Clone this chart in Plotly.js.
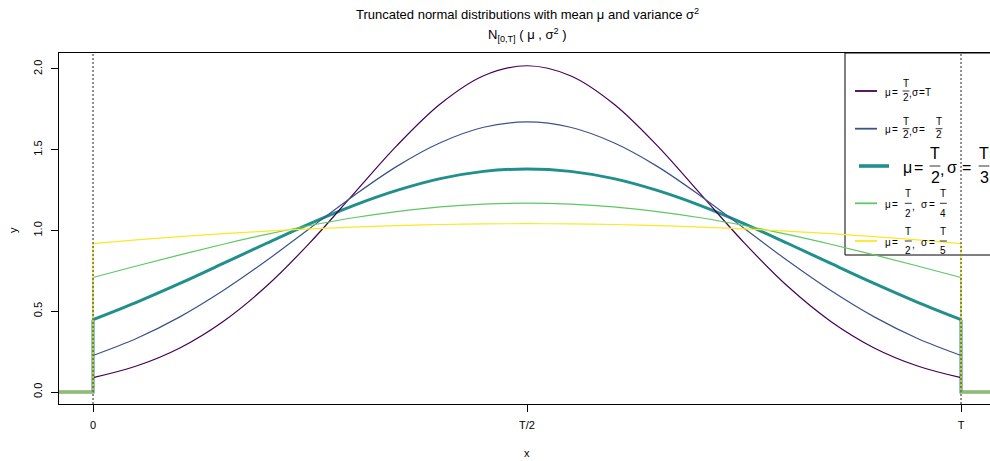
<!DOCTYPE html>
<html><head><meta charset="utf-8">
<script src="https://cdn.plot.ly/plotly-3.0.1.min.js"></script>
<style>html,body{margin:0;padding:0;background:#fff}#chart{width:990px;height:461px}</style>
</head><body><div id="chart"></div>
<script>
// ---- data ----
const xGrid = [0,0.05,0.1,0.15,0.2,0.25,0.3,0.35,0.4,0.45,0.5,0.55,0.6,0.65,0.7,0.75,0.8,0.85,0.9,0.95,1];
const xTickVals = [0, 0.5, 1];
const xTickText = ['0', 'T/2', 'T'];
const yTickVals = [0, 0.5, 1, 1.5, 2];
const yTickText = ['0.0', '0.5', '1.0', '1.5', '2.0'];
const outsideLeftX = [-0.1, 0, 0];
const outsideRightX = [1, 1, 1.1];
const sigmaDen = ['', '2', '3', '4', '5'];
const seriesColors = ['#440154', '#3B528B', '#21908C', '#5DC863', '#FDE725'];
const ySigmaT  = [0.089,0.161,0.273,0.437,0.656,0.925,1.225,1.525,1.783,1.958,2.020,1.958,1.783,1.525,1.225,0.925,0.656,0.437,0.273,0.161,0.089];
const ySigmaT2 = [0.226,0.331,0.465,0.628,0.814,1.014,1.214,1.397,1.543,1.639,1.672,1.639,1.543,1.397,1.214,1.014,0.814,0.628,0.465,0.331,0.226];
const ySigmaT3 = [0.448,0.555,0.672,0.796,0.921,1.043,1.154,1.248,1.321,1.366,1.381,1.366,1.321,1.248,1.154,1.043,0.921,0.796,0.672,0.555,0.448];
const ySigmaT4 = [0.709,0.780,0.849,0.915,0.976,1.031,1.079,1.117,1.146,1.163,1.169,1.163,1.146,1.117,1.079,1.031,0.976,0.915,0.849,0.780,0.709];
const ySigmaT5 = [0.919,0.942,0.962,0.980,0.996,1.010,1.021,1.030,1.037,1.041,1.042,1.041,1.037,1.030,1.021,1.010,0.996,0.980,0.962,0.942,0.919];
const allSeries = [ySigmaT, ySigmaT2, ySigmaT3, ySigmaT4, ySigmaT5];

// ---- geometry ----
const L = 59, R = 990, TOP = 53, BOT = 404;
const px = v => (v - L) / (R - L);
const py = v => (BOT - v) / (BOT - TOP);
const FONT = 'Liberation Sans, Arial, Helvetica, sans-serif';

const widths = [1.2, 1.2, 3, 1.2, 1.2];
const drawOrder = [2, 0, 1, 3, 4];
const traces = [];
drawOrder.forEach(i => {
  const ys = allSeries[i];
  const line = {color: seriesColors[i], width: widths[i]};
  traces.push({x: xGrid, y: ys, mode: 'lines', line: Object.assign({shape: 'spline', smoothing: 1}, line), hoverinfo: 'skip', showlegend: false});
  traces.push({x: outsideLeftX, y: [0, 0, ys[0]], mode: 'lines', line: line, hoverinfo: 'skip', showlegend: false});
  traces.push({x: outsideRightX, y: [ys[ys.length - 1], 0, 0], mode: 'lines', line: line, hoverinfo: 'skip', showlegend: false});
});

const shapes = [];
const annotations = [];
// dotted verticals at 0 and T
[0, 1].forEach(v => shapes.push({type: 'line', xref: 'x', yref: 'paper', x0: v, x1: v, y0: 0, y1: 1, layer: 'above',
  line: {color: '#555555', width: 1.3, dash: '2px,2px'}}));

// legend box
shapes.push({type: 'rect', xref: 'paper', yref: 'paper', x0: px(845), x1: px(1000), y0: py(255), y1: py(53), layer: 'below',
  line: {color: '#000', width: 1}, fillcolor: 'rgba(0,0,0,0)'});

function txt(t, x, y, fs, extra) {
  annotations.push(Object.assign({text: t, xref: 'paper', yref: 'paper', x: px(x), y: py(y), showarrow: false,
    xanchor: 'center', yanchor: 'middle', font: {family: FONT, size: fs, color: '#000'}}, extra || {}));
}
function bar(x, half, y) {
  shapes.push({type: 'line', xref: 'paper', yref: 'paper', x0: px(x - half), x1: px(x + half), y0: py(y), y1: py(y),
    line: {color: '#000', width: 0.8}});
}
const legendPos = [
  {y: 91,    ty: 92,    lx0: 855, lx1: 877, fs: 10, mu: 887.5, eq1: 894.5, f1: 906,   cm: 910.5, sg: 915,   eq2: 922, f2: 928, nu: -7.5, de: 6,  bh: 3.4},
  {y: 128.7, ty: 129.7, lx0: 855, lx1: 877, fs: 10, mu: 887.5, eq1: 894.5, f1: 906,   cm: 910.5, sg: 915,   eq2: 922, f2: 939,   nu: -7.5, de: 6,  bh: 3.4},
  {y: 166,   ty: 167.5, lx0: 859, lx1: 889, fs: 16, mu: 907,   eq1: 918, f1: 935,   cm: 941.7, sg: 952,   eq2: 966,   f2: 984,   nu: -12.3, de: 11.8, bh: 5.4},
  {y: 203.3, ty: 204.5, lx0: 855, lx1: 877, fs: 10, mu: 888.3, eq1: 895, f1: 908.3, cm: 913.3, sg: 924.5, eq2: 932,   f2: 943.3, nu: -10, de: 10,  bh: 3.5},
  {y: 241,   ty: 242,   lx0: 855, lx1: 877, fs: 10, mu: 888.3, eq1: 895, f1: 908.3, cm: 913.3, sg: 924.5, eq2: 932,   f2: 943.3, nu: -10, de: 9.5,  bh: 3.5}
];
legendPos.forEach((p, i) => {
  shapes.push({type: 'line', xref: 'paper', yref: 'paper', x0: px(p.lx0), x1: px(p.lx1), y0: py(p.y), y1: py(p.y),
    line: {color: seriesColors[i], width: widths[i] + 0.6}});
  txt('μ', p.mu, p.ty, p.fs);
  txt('=', p.eq1, p.ty, p.fs);
  txt('T', p.f1, p.y + p.nu, p.fs);
  bar(p.f1, p.bh, p.y);
  txt('2', p.f1, p.y + p.de, p.fs);
  txt(',', p.cm, p.ty + Math.round(p.fs * 0.15), p.fs);
  txt('σ', p.sg, p.ty, p.fs);
  txt('=', p.eq2, p.ty, p.fs);
  if (sigmaDen[i] === '') {
    txt('T', p.f2, p.ty, p.fs);
  } else {
    txt('T', p.f2, p.y + p.nu, p.fs);
    bar(p.f2, p.bh, p.y);
    txt(sigmaDen[i], p.f2, p.y + p.de, p.fs);
  }
});

// titles
txt('Truncated normal distributions with mean μ and variance σ<sup>2</sup>', 527, 14, 13);
txt('N<sub>[0,T]</sub> ( μ , σ<sup>2</sup> )', 527, 35, 13);
txt('x', 527, 453, 11);
annotations.push({text: 'y', xref: 'paper', yref: 'paper', x: px(13), y: py(230), showarrow: false, textangle: -90,
  xanchor: 'center', yanchor: 'middle', font: {family: FONT, size: 11, color: '#000'}});

const layout = {
  width: 990, height: 461,
  margin: {l: L, r: 990 - R, t: TOP, b: 461 - BOT, pad: 0},
  paper_bgcolor: '#fff', plot_bgcolor: '#fff',
  showlegend: false,
  font: {family: FONT, size: 11, color: '#000'},
  xaxis: {range: [-0.0392, 1.0334], tickvals: xTickVals, ticktext: xTickText, ticks: 'outside', ticklen: 7, tickwidth: 1,
    tickcolor: '#000', showline: true, linecolor: '#000', linewidth: 1, mirror: true, showgrid: false, zeroline: false,
    ticklabelstandoff: 4, tickfont: {family: FONT, size: 11, color: '#000'}},
  yaxis: {range: [-0.0743, 2.099], tickvals: yTickVals, ticktext: yTickText, ticks: 'outside', ticklen: 7, tickwidth: 1,
    tickcolor: '#000', showline: true, linecolor: '#000', linewidth: 1, mirror: false, showgrid: false, zeroline: false,
    tickangle: -90, ticklabelstandoff: 5, tickfont: {family: FONT, size: 11, color: '#000'}},
  shapes: shapes,
  annotations: annotations
};
Plotly.newPlot('chart', traces, layout, {staticPlot: true, displayModeBar: false});
</script>
</body></html>
